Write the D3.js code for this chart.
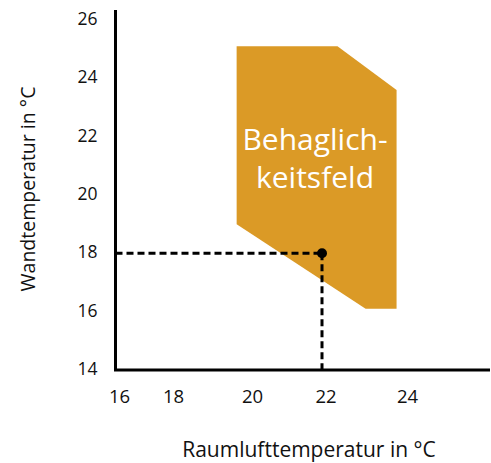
<!DOCTYPE html>
<html>
<head>
<meta charset="utf-8">
<script src="https://cdn.jsdelivr.net/npm/d3@7"></script>
<style>
  html, body { margin: 0; padding: 0; background: #fff; }
  svg { display: block; font-family: "Open Sans", "Noto Sans", sans-serif; }
</style>
</head>
<body>
<div id="chart"></div>
<script>
// Axis tick values
const xTicks = [16, 18, 20, 22, 24];
const yTicks = [14, 16, 18, 20, 22, 24, 26];

// Comfort zone outline: [room air temperature, wall temperature]
const zoneAirTemp  = [19.7, 22.38, 23.83, 23.83, 23.07, 19.7];
const zoneWallTemp = [25.1, 25.1, 23.6, 16.1, 16.1, 19.0];
const zoneLabel = ["Behaglich-", "keitsfeld"];

// Example operating point
const pointAirTemp = [22];
const pointWallTemp = [18];

const xTitle = "Raumlufttemperatur in °C";
const yTitle = "Wandtemperatur in °C";

const W = 491, H = 463;
const svg = d3.select("#chart").append("svg")
  .attr("width", W).attr("height", H);

// The horizontal axis is drawn with uneven spacing between its labels
const x = d3.scaleLinear()
  .domain(xTicks)
  .range([115.5, 169.5, 248.5, 322, 403.5]);
const y = d3.scaleLinear()
  .domain([14, 26])
  .range([370, 20]);

const axisRight = 490;
const axisTop = 10;

// Comfort zone polygon
const zone = zoneAirTemp.map((a, i) => [x(a), y(zoneWallTemp[i])]);
svg.append("path")
  .attr("d", d3.line()(zone) + "Z")
  .attr("fill", "#db9a26");

// Zone label
svg.append("text")
  .attr("x", 315)
  .attr("y", 150)
  .attr("text-anchor", "middle")
  .attr("fill", "#fff")
  .attr("font-size", 30)
  .selectAll("tspan")
  .data(zoneLabel)
  .join("tspan")
  .attr("x", 315)
  .attr("dy", (d, i) => i === 0 ? 0 : 38)
  .text(d => d);

// Dashed guides from the point to both axes
const px = x(pointAirTemp[0]), py = y(pointWallTemp[0]);
svg.append("line")
  .attr("x1", x(16)).attr("y1", py)
  .attr("x2", px).attr("y2", py)
  .attr("stroke", "#000").attr("stroke-width", 3)
  .attr("stroke-dasharray", "7,4");
svg.append("line")
  .attr("x1", px).attr("y1", py)
  .attr("x2", px).attr("y2", y(14))
  .attr("stroke", "#000").attr("stroke-width", 3)
  .attr("stroke-dasharray", "7,4");

svg.selectAll("circle.pt")
  .data(pointAirTemp)
  .join("circle")
  .attr("class", "pt")
  .attr("cx", d => x(d))
  .attr("cy", (d, i) => y(pointWallTemp[i]))
  .attr("r", 5)
  .attr("fill", "#000");

// Axes (labels only; lines drawn separately to extend past the last tick)
const gx = svg.append("g")
  .attr("transform", `translate(0,${y(14)})`)
  .call(d3.axisBottom(x).tickValues(xTicks).tickSize(0).tickPadding(20)
    .tickFormat(d3.format("d")));
gx.select(".domain").remove();
gx.selectAll("text")
  .attr("dx", 3.5)
  .attr("font-size", 18.5)
  .attr("font-family", "Open Sans, sans-serif")
  .attr("fill", "#111");

const gy = svg.append("g")
  .attr("transform", `translate(${x(16)},0)`)
  .call(d3.axisLeft(y).tickValues(yTicks).tickSize(0).tickPadding(18)
    .tickFormat(d3.format("d")));
gy.select(".domain").remove();
gy.selectAll("text")
  .attr("dy", "0.25em")
  .attr("font-size", 17.5)
  .attr("font-family", "Open Sans, sans-serif")
  .attr("fill", "#111");

svg.append("path")
  .attr("d", `M${x(16)},${axisTop}V${y(14)}H${axisRight}`)
  .attr("fill", "none")
  .attr("stroke", "#000")
  .attr("stroke-width", 3);

// Axis titles
svg.append("text")
  .attr("x", 309)
  .attr("y", 456.5)
  .attr("text-anchor", "middle")
  .attr("font-size", 21)
  .attr("fill", "#111")
  .text(xTitle);

svg.append("text")
  .attr("transform", "translate(34.5,189) rotate(-90)")
  .attr("text-anchor", "middle")
  .attr("font-size", 19.5)
  .attr("fill", "#111")
  .text(yTitle);
</script>
</body>
</html>
